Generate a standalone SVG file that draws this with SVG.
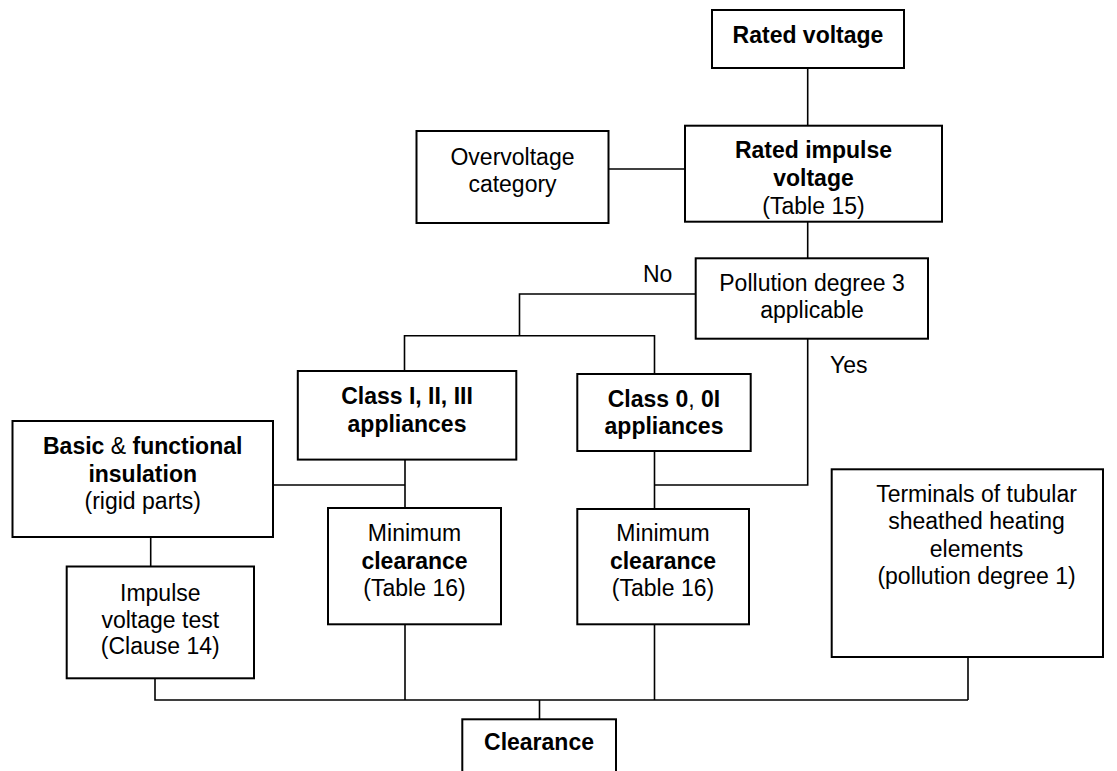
<svg xmlns="http://www.w3.org/2000/svg" width="1117" height="771" viewBox="0 0 1117 771">
<style>
.box{fill:#fff;stroke:#000;stroke-width:2}
.ln{fill:none;stroke:#000;stroke-width:1.6}
text{font-family:"Liberation Sans",Arial,sans-serif;font-size:23px;fill:#000;text-anchor:middle}
.b{font-weight:bold}
.l{text-anchor:start}
</style>
<rect width="1117" height="771" fill="#fff"/>
<g id="connectors">
<path class="ln" d="M807.7 68 V125.7"/>
<path class="ln" d="M608.5 169 H685"/>
<path class="ln" d="M807.7 221.7 V258.3"/>
<path class="ln" d="M695.7 294 H519.5 V335.7"/>
<path class="ln" d="M404.5 371 V335.7 H654.5 V374"/>
<path class="ln" d="M807.7 338.7 V485 H654.5"/>
<path class="ln" d="M654.5 451 V509"/>
<path class="ln" d="M405 459.6 V508"/>
<path class="ln" d="M273 485 H405"/>
<path class="ln" d="M150.7 537 V566.5"/>
<path class="ln" d="M155 678.3 V700 H968"/>
<path class="ln" d="M405 624.3 V700"/>
<path class="ln" d="M654.5 624.3 V700"/>
<path class="ln" d="M968 657 V700"/>
<path class="ln" d="M539.5 700 V719.3"/>
<text class="l" x="643" y="282">No</text>
<text class="l" x="830" y="373">Yes</text>
</g>
<g id="rated-voltage">
<rect class="box" x="712" y="10" width="192" height="58"/>
<text class="b" x="808" y="43">Rated voltage</text>
</g>
<g id="rated-impulse-voltage">
<rect class="box" x="685" y="125.7" width="257" height="96"/>
<text class="b" x="813.5" y="158">Rated impulse</text>
<text class="b" x="813.5" y="186">voltage</text>
<text x="813.5" y="214">(Table 15)</text>
</g>
<g id="overvoltage-category">
<rect class="box" x="416.5" y="131" width="192" height="92"/>
<text x="512.5" y="165">Overvoltage</text>
<text x="512.5" y="192">category</text>
</g>
<g id="pollution-degree">
<rect class="box" x="695.7" y="258.3" width="232.3" height="80.4"/>
<text x="812" y="291">Pollution degree 3</text>
<text x="812" y="318">applicable</text>
</g>
<g id="class-1-2-3">
<rect class="box" x="297.8" y="371" width="218.5" height="88.6"/>
<text class="b" x="407" y="404">Class I, II, III</text>
<text class="b" x="407" y="432">appliances</text>
</g>
<g id="class-0-0I">
<rect class="box" x="577.3" y="374" width="173.4" height="77"/>
<text x="664" y="406.5"><tspan class="b">Class 0</tspan>, <tspan class="b">0I</tspan></text>
<text class="b" x="664" y="434">appliances</text>
</g>
<g id="basic-functional-insulation">
<rect class="box" x="12.5" y="421" width="260.5" height="116"/>
<text x="142.7" y="454"><tspan class="b">Basic</tspan> &amp; <tspan class="b">functional</tspan></text>
<text class="b" x="142.7" y="481.5">insulation</text>
<text x="142.7" y="508.5">(rigid parts)</text>
</g>
<g id="impulse-voltage-test">
<rect class="box" x="66.7" y="566.5" width="187.3" height="111.8"/>
<text x="160.3" y="601">Impulse</text>
<text x="160.3" y="627.5">voltage test</text>
<text x="160.3" y="654">(Clause 14)</text>
</g>
<g id="min-clearance-1">
<rect class="box" x="328" y="508" width="173" height="116.3"/>
<text x="414.5" y="541">Minimum</text>
<text class="b" x="414.5" y="568.5">clearance</text>
<text x="414.5" y="596">(Table 16)</text>
</g>
<g id="min-clearance-2">
<rect class="box" x="577.3" y="509" width="171.7" height="115.3"/>
<text x="663" y="541">Minimum</text>
<text class="b" x="663" y="568.5">clearance</text>
<text x="663" y="596">(Table 16)</text>
</g>
<g id="terminals">
<rect class="box" x="831.7" y="469.3" width="271.3" height="187.7"/>
<text x="976.5" y="501.5">Terminals of tubular</text>
<text x="976.5" y="529">sheathed heating</text>
<text x="976.5" y="556.5">elements</text>
<text x="976.5" y="584">(pollution degree 1)</text>
</g>
<g id="clearance">
<rect class="box" x="462.3" y="719.3" width="153.7" height="60"/>
<text class="b" x="539" y="750">Clearance</text>
</g>
</svg>
